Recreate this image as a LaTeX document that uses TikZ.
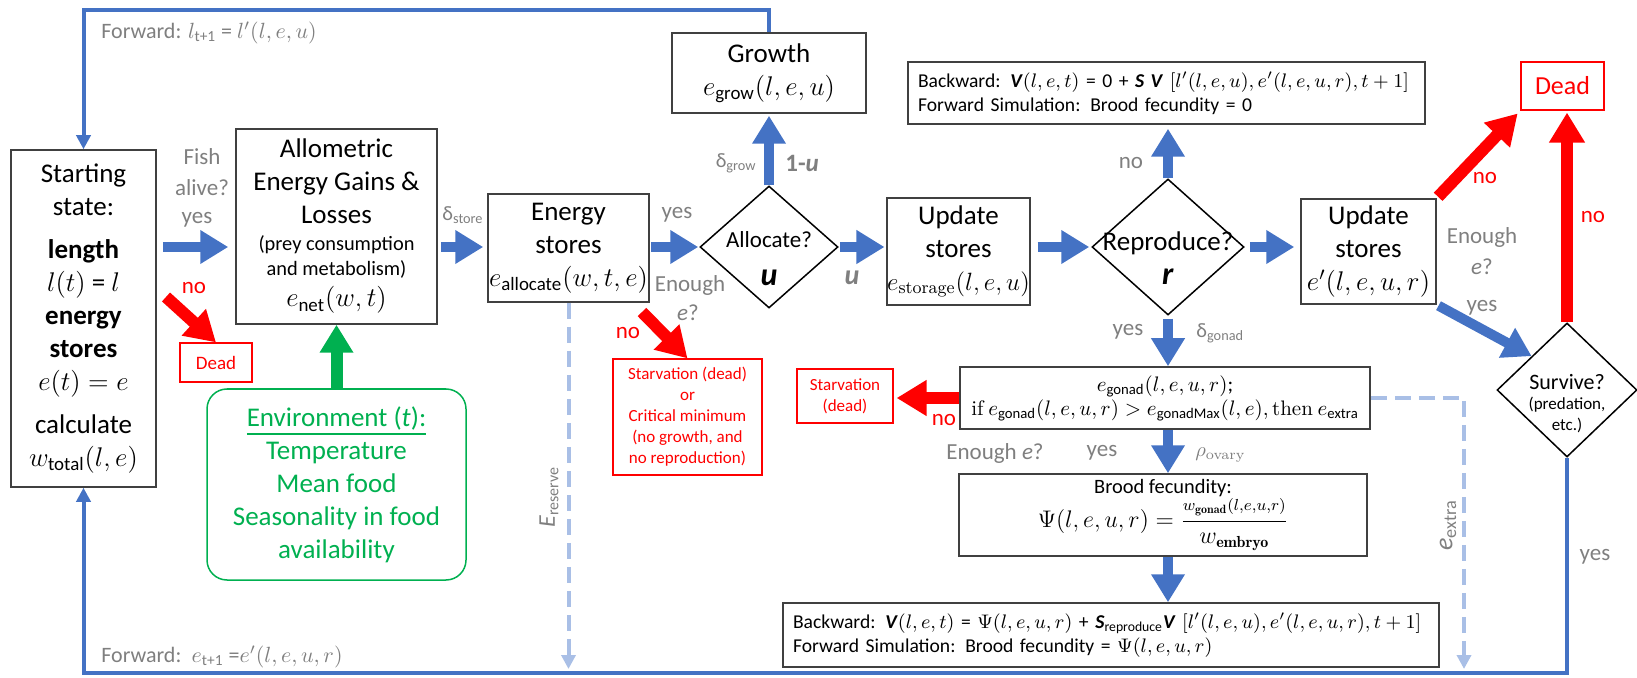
\RequirePackage{fix-cm}
\documentclass[tikz,border=0pt]{standalone}
\usepackage{amsmath}
\usepackage{fontspec}
\setmainfont{Carlito}
\usepackage{xcolor}
\usepackage{tikz}
\usetikzlibrary{arrows.meta, shapes.geometric, calc}

\definecolor{fishblue}{HTML}{4472C4}
\definecolor{fishred}{HTML}{FF0000}
\definecolor{fishgreen}{HTML}{00B050}
\definecolor{labelgray}{HTML}{7F7F7F}
\definecolor{dashblue}{HTML}{A9BFE6}

\newcommand{\mainsize}{\fontsize{13.5}{16.5}\selectfont}
\newcommand{\midsize}{\fontsize{11.5}{13.5}\selectfont}
\newcommand{\smallsize}{\fontsize{10.2}{12.5}\selectfont}
\newcommand{\backsize}{\fontsize{9.8}{12}\selectfont}
\newcommand{\tinysize}{\fontsize{8.5}{10.5}\selectfont}
\newcommand{\lmtext}[1]{\text{\fontfamily{lmr}\selectfont #1}}
\newcommand{\lmbold}[1]{\text{\fontfamily{lmr}\bfseries #1}}

\begin{document}
\begin{tikzpicture}[x=0.5pt, y=-0.5pt,
    box/.style={draw=black!75, line width=0.75pt, align=center, inner sep=0pt, font=\mainsize},
    redbox/.style={draw=fishred, line width=0.6pt, text=fishred, align=center, inner sep=0pt, font=\tinysize},
    decision/.style={diamond, draw=black, line width=0.75pt, inner sep=0pt},
    fatblue/.style={draw=fishblue, line width=5pt, -{Triangle[length=14pt,width=16pt]}},
    fatred/.style={draw=fishred, line width=6pt, -{Triangle[length=15pt,width=17pt]}},
    fatgreen/.style={draw=fishgreen, line width=6pt, -{Triangle[length=14pt,width=16pt]}},
    loopline/.style={draw=fishblue, line width=2pt, -{Triangle[length=7pt,width=7pt]}},
    reserve/.style={draw=dashblue, line width=2pt, dash pattern=on 8pt off 4pt, -{Triangle[length=7pt,width=7pt]}},
    lbl/.style={text=labelgray, font=\midsize, inner sep=0pt, align=center},
    redlbl/.style={text=fishred, font=\midsize, inner sep=0pt}]

    \useasboundingbox (0,0) rectangle (1637,678);

    \node[box, minimum width=72.5pt, minimum height=168.5pt] (start) at (83.5,318.5) {Starting\\state:\\[5pt]\textbf{length}\\$l(t)$ = $l$\\\textbf{energy}\\\textbf{stores}\\$e(t)=e$\\[5pt]calculate\\$w_{\text{total}}(l,e)$};
    \node[box, minimum width=100.5pt, minimum height=97.5pt] (allom) at (336.5,226.5) {Allometric\\Energy Gains \&\\Losses\\[-3pt]{\smallsize (prey consumption}\\[-4pt]{\smallsize and metabolism)}\\[-1pt]$e_{\text{net}}(w,t)$};
    \node[redbox, font=\fontsize{9.5}{11}\selectfont, minimum width=36pt, minimum height=19.5pt] (deadA) at (216,362.5) {Dead};
    \node[draw=fishgreen, line width=0.75pt, rounded corners=10pt, text=fishgreen, align=center, font=\mainsize, minimum width=129.5pt, minimum height=95.5pt, inner sep=0pt] (env) at (336.5,484.5) {\underline{Environment (\textit{t}):}\\Temperature\\Mean food\\Seasonality in food\\availability};
    \node[box, minimum width=80.5pt, minimum height=54pt] (energy) at (568.5,248) {Energy\\stores\\$e_{\text{allocate}}(w,t,e)$};
    \node[decision, minimum width=69pt, minimum height=61pt] (alloc) at (769,247) {};
    \node[font=\fontsize{11.5}{13}\selectfont, inner sep=0pt] (alloctxt) at (769,240) {Allocate?};
    \node[font=\fontsize{16}{16}\selectfont, inner sep=0pt] (allocu) at (769,278) {\textbf{\textit{u}}};
    \node[box, minimum width=97pt, minimum height=40pt] (growth) at (769,73) {Growth\\$e_{\text{grow}}(l,e,u)$};
    \node[redbox, minimum width=74.5pt, minimum height=58pt] (starv1) at (687.5,417) {Starvation (dead)\\or\\Critical minimum\\(no growth, and\\no reproduction)};
    \node[box, minimum width=69.5pt, minimum height=53.5pt] (update1) at (958.5,251.5) {Update\\stores\\{\fontsize{12.5}{15}\selectfont$e_{\lmtext{storage}}(l,e,u)$}};
    \node[decision, minimum width=76pt, minimum height=68pt] (repro) at (1168,247) {};
    \node[font=\fontsize{13.5}{15}\selectfont, inner sep=0pt] (reprotxt) at (1168,243) {Reproduce?};
    \node[font=\fontsize{16}{16}\selectfont, inner sep=0pt] (repror) at (1168,277) {\textbf{\textit{r}}};
    \node[box, font=\backsize, align=left, text width=248.5pt, inner xsep=5pt, minimum height=31pt] (back1) at (1166.5,93) {Backward: \textbf{\textit{V}}$(l,e,t)$ = 0 + \textbf{\textit{S V}} $[l'(l,e,u),e'(l,e,u,r),t+1]$\\Forward Simulation: Brood fecundity = 0};
    \node[box, minimum width=67.5pt, minimum height=52.5pt] (update2) at (1368.5,251.5) {Update\\stores\\$e'(l,e,u,r)$};
    \node[decision, minimum width=70pt, minimum height=67pt] (surv) at (1567,390) {};
    \node[font=\fontsize{11}{13}\selectfont, inner sep=0pt] (survtxt) at (1567,382) {Survive?};
    \node[font=\tinysize, align=center, inner sep=0pt] (survsub) at (1567,415) {(predation,\\etc.)};
    \node[redbox, font=\fontsize{13}{15}\selectfont, minimum width=41.5pt, minimum height=24pt] (deadB) at (1562.5,86) {Dead};
    \node[box, font=\fontsize{10.5}{12}\selectfont, minimum width=205pt, minimum height=31pt] (egonad) at (1165,398) {$e_{\text{gonad}}(l,e,u,r)$;\\$\lmtext{if}\ e_{\text{gonad}}(l,e,u,r) > e_{\text{gonadMax}}(l,e), \lmtext{then}\ e_{\text{extra}}$};
    \node[redbox, minimum width=48pt, minimum height=27pt] (starv2) at (845,396) {Starvation\\(dead)};
    \node[box, font=\smallsize, minimum width=204pt, minimum height=41pt] (brood) at (1163,515) {Brood fecundity:\\{\fontsize{12}{14}\selectfont$\Psi(l,e,u,r)=\dfrac{\scriptstyle w_{\lmbold{gonad}}(l,e,u,r)}{w_{\lmbold{embryo}}}$}};
    \node[box, font=\backsize, align=left, text width=318pt, inner xsep=5pt, minimum height=32pt] (back2) at (1111,635) {Backward: \textbf{\textit{V}}$(l,e,t)$ = $\Psi(l,e,u,r)$ + \textbf{\textit{S}}\textsubscript{reproduce}\textbf{\textit{V}} $[l'(l,e,u),e'(l,e,u,r),t+1]$\\Forward Simulation: Brood fecundity = $\Psi(l,e,u,r)$};

    \coordinate (row) at (0,247);
    \coordinate (topline) at (0,10);
    \coordinate (botline) at (0,673);
    \coordinate (noA) at (166,297);
    \coordinate (noB) at (642,312);
    \coordinate (extra) at (1464,0);

    \draw[loopline] (growth.north) -- (growth.north |- topline) -| (start.north);
    \draw[loopline] (surv.south) -- (surv.south |- botline) -| (start.south);
    \draw[reserve, shorten >=2pt] (energy.south) -- (energy.south |- botline);
    \draw[reserve, shorten >=2pt] (egonad.east) -| (extra |- botline);

    \draw[fatblue, shorten <=3pt, shorten >=3.5pt] (start.east |- row) -- (allom.west |- row);
    \draw[fatblue, shorten <=1.5pt, shorten >=2pt] (allom.east |- row) -- (energy.west |- row);
    \draw[fatblue, shorten <=0.5pt, shorten >=0.5pt] (energy.east |- row) -- (alloc.west);
    \draw[fatblue, shorten <=0.5pt, shorten >=1pt] (alloc.east) -- (update1.west |- row);
    \draw[fatblue, shorten <=3.5pt, shorten >=1pt] (update1.east |- row) -- (repro.west);
    \draw[fatblue, shorten <=2.5pt, shorten >=3pt] (repro.east) -- (update2.west |- row);
    \draw[fatblue, shorten >=1pt] (alloc.north) -- (growth.south);
    \draw[fatblue, shorten >=2pt] (repro.north) -- (repro.north |- back1.south);
    \draw[fatblue, shorten <=1.5pt] (repro.south) -- (repro.south |- egonad.north);
    \draw[fatblue] (repro.south |- egonad.south) -- (repro.south |- brood.north);
    \draw[fatblue] (repro.south |- brood.south) -- (repro.south |- back2.north);
    \draw[fatblue, shorten <=1pt] (update2.south east) -- (surv.north west);
    \draw[fatred] (noA) -- (deadA.north);
    \draw[fatred] (noB) -- (starv1.north);
    \draw[fatred, shorten >=1.5pt] (egonad.west) -- (starv2.east |- egonad.west);
    \draw[fatred, shorten <=1pt, shorten >=2pt] (update2.north east) -- (deadB.south west);
    \draw[fatred, shorten >=1pt] (surv.north) -- (surv.north |- deadB.south);
    \draw[fatgreen] (env.north) -- (allom.south);

    \node[lbl, font=\fontsize{11}{13}\selectfont, anchor=west] (fwdl) at (101,33) {Forward: $l_{\text{t+1}}$ = $l'(l,e,u)$};
    \node[lbl, font=\fontsize{11}{13}\selectfont, anchor=west] (fwde) at (101,657) {Forward: \,$e_{\text{t+1}}$ =$e'(l,e,u,r)$};
    \node[lbl] (fish) at (202,172) {Fish\\[2pt]alive?};
    \node[lbl] (yesA) at (197,220) {yes};
    \node[redlbl] (noAlbl) at (194,288) {no};
    \node[lbl, font=\smallsize] (dstore) at (463,215) {δ\textsubscript{store}};
    \node[lbl] (yesE) at (677,215) {yes};
    \node[lbl] (enoughE) at (690,285) {Enough};
    \node[lbl] (eqE) at (688,313) {\textit{e}?};
    \node[redlbl] (noElbl) at (628,333) {no};
    \node[lbl, font=\smallsize, anchor=east] (dgrow) at (757,163) {δ\textsubscript{grow}};
    \node[lbl, font=\fontsize{12.5}{14}\selectfont, anchor=west] (oneu) at (785,163) {\textbf{1-\textit{u}}};
    \node[lbl, font=\fontsize{14}{14}\selectfont] (ulbl) at (852,278) {\textbf{\textit{u}}};
    \node[lbl] (noR) at (1131,163) {no};
    \node[lbl] (yesR) at (1128,332) {yes};
    \node[lbl, font=\smallsize, anchor=west] (dgonad) at (1196,333) {δ\textsubscript{gonad}};
    \node[redlbl] (noGlbl) at (944,420) {no};
    \node[lbl] (enoughG) at (995,453) {Enough \textit{e}?};
    \node[lbl] (yesG) at (1102,453) {yes};
    \node[lbl, font=\smallsize, anchor=west] (rhoov) at (1195,455) {$\rho_{\lmtext{ovary}}$};
    \node[lbl] (enoughU) at (1482,251) {Enough\\[2pt]\textit{e}?};
    \node[lbl] (yesU) at (1482,308) {yes};
    \node[redlbl] (noD1) at (1485,178) {no};
    \node[redlbl] (noD2) at (1593,217) {no};
    \node[lbl] (yesS) at (1595,557) {yes};
    \node[lbl, font=\fontsize{12}{14}\selectfont, rotate=90] (ereslbl) at (549,497) {\textit{E}\textsubscript{reserve}};
    \node[lbl, font=\fontsize{13}{15}\selectfont, rotate=90] (eextralbl) at (1448,525) {\textit{e}\textsubscript{extra}};
\end{tikzpicture}
\end{document}
